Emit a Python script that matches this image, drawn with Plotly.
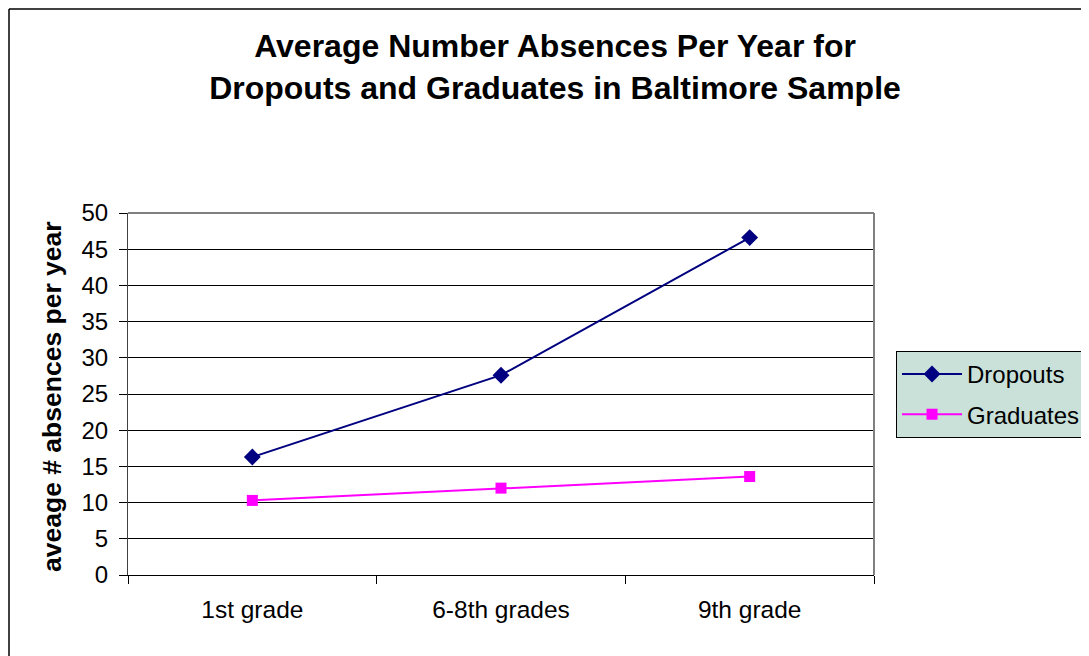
import plotly.graph_objects as go

categories = ["1st grade", "6-8th grades", "9th grade"]
dropouts = [16.3, 27.6, 46.6]
graduates = [10.3, 12.0, 13.6]
y_ticks = [0, 5, 10, 15, 20, 25, 30, 35, 40, 45, 50]

FONT = "Liberation Sans, Arial, sans-serif"

W, H = 1081, 648
L, R, T, B = 120, 215, 205, 81

fig = go.Figure()
fig.add_trace(go.Scatter(
    x=categories, y=dropouts, name="Dropouts", mode="lines+markers",
    legendgroup="a",
    line=dict(color="#000080", width=2),
    marker=dict(symbol="diamond", size=13, color="#000080"),
))
fig.add_trace(go.Scatter(
    x=categories, y=graduates, name="Graduates", mode="lines+markers",
    legendgroup="b",
    line=dict(color="#FF00FF", width=2),
    marker=dict(symbol="square", size=11, color="#FF00FF"),
))

fig.update_layout(
    width=W, height=H,
    margin=dict(l=L, r=R, t=T, b=B, autoexpand=False),
    paper_bgcolor="white", plot_bgcolor="white",
    font=dict(family=FONT, color="black", size=24),
    title=dict(
        text="<b>Average Number Absences Per Year for<br>Dropouts and Graduates in Baltimore Sample</b>",
        x=0.5724, xref="paper", xanchor="center",
        y=0.924, yref="container", yanchor="top",
        font=dict(family=FONT, size=32, color="black"),
    ),
    showlegend=True,
    legend=dict(
        x=1.0295, xanchor="left", y=0.619, yanchor="top",
        bgcolor="#C9E1D9", bordercolor="black", borderwidth=1,
        font=dict(family=FONT, size=24, color="black"),
        itemwidth=60, tracegroupgap=6,
    ),
    xaxis=dict(
        type="category", range=[-0.5, 2.5],
        showgrid=False, showline=True, linecolor="black", linewidth=1,
        ticks="outside", tickson="boundaries", ticklen=8, tickcolor="black",
        tickfont=dict(size=24.5), zeroline=False, ticklabelstandoff=13,
    ),
    yaxis=dict(
        range=[0, 50], tickvals=y_ticks,
        showgrid=True, gridcolor="black", gridwidth=1,
        showline=True, linecolor="#404040", linewidth=1,
        ticks="outside", ticklen=8, tickcolor="black",
        tickfont=dict(size=24), zeroline=False, ticklabelstandoff=6,
    ),
    annotations=[
        dict(text="<b>aveage # absences per year</b>", xref="paper", yref="paper",
             x=(44 - L) / (W - L - R), y=0.4917, xanchor="center", yanchor="middle",
             textangle=-90, showarrow=False, font=dict(size=26.5, family=FONT, color="black")),
    ],
    shapes=[
        dict(type="line", xref="paper", yref="paper", x0=0, x1=1, y0=1, y1=1,
             line=dict(color="#808080", width=2), layer="above"),
        dict(type="line", xref="paper", yref="paper", x0=1, x1=1, y0=0, y1=1,
             line=dict(color="#808080", width=2), layer="above"),
        dict(type="line", xref="paper", yref="paper",
             x0=(1 - L) / (W - L - R), x1=(1 - L) / (W - L - R), y0=-0.3, y1=(H - B - 1) / (H - T - B),
             line=dict(color="black", width=1.5), layer="above"),
        dict(type="line", xref="paper", yref="paper",
             x0=(1 - L) / (W - L - R), x1=1.4, y0=(H - B - 1) / (H - T - B), y1=(H - B - 1) / (H - T - B),
             line=dict(color="black", width=1.5), layer="above"),
    ],
)

fig.write_html("out.html")
